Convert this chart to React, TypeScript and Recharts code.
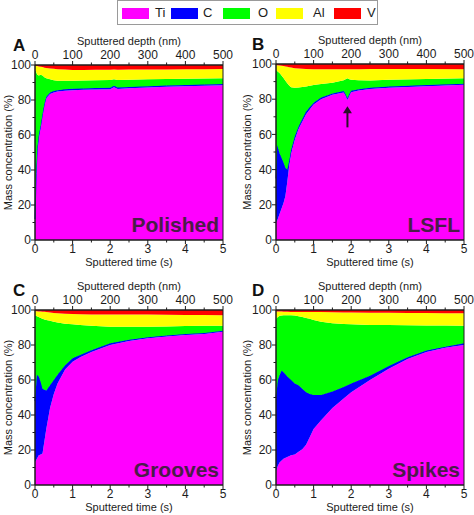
import React from 'react';
import { AreaChart, Area, XAxis, YAxis, ReferenceArea, ReferenceLine, ReferenceDot, Label } from 'recharts';

const elements = ['Ti', 'C', 'O', 'Al', 'V'];
const colors = ['#ff00ff', '#0000ff', '#00ff00', '#ffff00', '#ff0000'];

const timeTicks = [0, 0.5, 1, 1.5, 2, 2.5, 3, 3.5, 4, 4.5, 5];
const timeLabels = ['0', '1', '2', '3', '4', '5'];
const depthLabels = ['0', '100', '200', '300', '400', '500'];
const concTicks = [0, 10, 20, 30, 40, 50, 60, 70, 80, 90, 100];

// Polished
const timeA = [0, 0.03, 0.06, 0.1, 0.15, 0.2, 0.25, 0.3, 0.4, 0.5, 0.6, 0.8, 1.0, 1.3, 1.6, 2.0, 2.1, 2.2, 2.5, 3.0, 3.5, 4.0, 4.5, 5.0];
const tiA = [8, 35, 50, 58, 64, 71, 77, 81, 83.5, 84.3, 84.8, 85.3, 85.6, 85.8, 86, 86.2, 87.3, 86.3, 86.7, 87.2, 87.6, 87.9, 88.2, 88.5];
const cA = [4, 3, 2.5, 2, 1.5, 1.2, 1, 0.9, 0.8, 0.8, 0.8, 0.8, 0.8, 0.8, 0.8, 0.8, 0.8, 0.8, 0.8, 0.7, 0.7, 0.7, 0.7, 0.7];
const oA = [85.5, 58, 42, 34, 29, 21.8, 15, 10.6, 7.5, 6.2, 5.4, 4.9, 4.6, 4.6, 4.5, 4.5, 3.8, 4.4, 4.1, 3.9, 3.7, 3.5, 3.4, 3.2];
const alA = [2.1, 3.5, 4.9, 5.2, 4.5, 4.8, 5.5, 5.8, 6.2, 6.5, 6.6, 6.4, 6.2, 6, 6, 5.8, 5.5, 5.8, 5.8, 5.7, 5.5, 5.5, 5.3, 5.3];
const vA = [0.4, 0.5, 0.6, 0.8, 1, 1.2, 1.5, 1.7, 2, 2.2, 2.4, 2.6, 2.8, 2.8, 2.7, 2.7, 2.6, 2.7, 2.6, 2.5, 2.5, 2.4, 2.4, 2.3];

// LSFL
const timeB = [0, 0.03, 0.1, 0.2, 0.25, 0.3, 0.35, 0.4, 0.5, 0.6, 0.8, 1.0, 1.2, 1.5, 1.8, 1.85, 1.9, 1.95, 2.0, 2.2, 2.5, 3.0, 4.0, 5.0];
const tiB = [10, 11, 15, 21, 25, 33, 42, 49, 57, 63, 71.5, 77, 80, 82.5, 83.8, 82, 79.5, 82, 84, 85, 85.8, 86.5, 87.4, 88.2];
const cB = [25, 43, 34, 23, 16, 7, 3, 2, 2, 1.5, 1.5, 1, 1, 0.8, 0.8, 1, 1, 1, 0.8, 0.7, 0.7, 0.7, 0.6, 0.6];
const oB = [61.6, 42, 45.7, 48, 49.5, 49, 42.8, 35.8, 27.5, 22.2, 14.2, 10, 7.6, 6.1, 6.2, 8.3, 11.4, 8.4, 6.2, 5, 4.1, 3.8, 3.5, 3.1];
const alB = [2.8, 3.3, 4.4, 6.8, 8.1, 9.5, 10.4, 11.2, 11.1, 10.7, 10, 9, 8.4, 7.6, 6.2, 5.7, 5.1, 5.6, 6, 6.3, 6.5, 6.2, 5.6, 5.1];
const vB = [0.6, 0.7, 0.9, 1.2, 1.4, 1.5, 1.8, 2, 2.4, 2.6, 2.8, 3, 3, 3, 3, 3, 3, 3, 3, 3, 2.9, 2.8, 2.9, 3];

// Grooves
const timeC = [0, 0.05, 0.1, 0.15, 0.2, 0.25, 0.3, 0.4, 0.5, 0.6, 0.8, 1.0, 1.2, 1.5, 2.0, 2.5, 3.0, 3.5, 4.0, 4.5, 5.0];
const tiC = [13, 15, 17, 17.5, 18, 25, 32, 44, 52, 58, 66, 70.5, 73, 76, 80, 82.3, 83.8, 84.8, 85.7, 86.3, 87.6];
const cC = [35, 48, 45, 41.5, 37, 29.5, 22, 13, 8, 5, 2.5, 1.9, 1.3, 1, 1, 0.7, 0.6, 0.6, 0.6, 0.6, 0.6];
const oC = [49, 33.5, 34, 36.5, 40, 40.1, 40.3, 36.8, 33.3, 29.8, 23.7, 19.4, 17.1, 14, 9.5, 7.4, 6.1, 5.2, 4.6, 4.1, 2.8];
const alC = [2.4, 2.8, 3.2, 3.6, 4, 4.4, 4.6, 4.8, 5, 5.3, 5.7, 5.9, 6.2, 6.5, 7, 7.1, 6.9, 6.7, 6.3, 6.1, 6];
const vC = [0.6, 0.7, 0.8, 0.9, 1, 1, 1.1, 1.4, 1.7, 1.9, 2.1, 2.3, 2.4, 2.5, 2.5, 2.5, 2.6, 2.7, 2.8, 2.9, 3];

// Spikes
const timeD = [0, 0.05, 0.1, 0.15, 0.2, 0.3, 0.4, 0.5, 0.6, 0.7, 0.8, 0.9, 1.0, 1.2, 1.5, 1.8, 2.0, 2.5, 3.0, 3.5, 4.0, 4.5, 5.0];
const tiD = [7.6, 11, 13, 14, 15, 16, 17, 17.5, 19, 20.5, 23, 27.5, 32, 37, 44, 49.5, 53, 60, 66.5, 72, 76, 78.5, 80];
const cD = [42.4, 49, 50, 51.5, 49.5, 46, 43, 40.5, 38, 34.5, 30, 24.5, 19.4, 14.5, 9.5, 6.5, 5, 2.5, 1.5, 1, 0.8, 0.5, 1];
const oD = [45, 36, 33.7, 31.4, 32.5, 35, 37, 38.8, 39.5, 41, 42.5, 43, 42.9, 41.8, 38.9, 36, 33.8, 29, 23.4, 18.3, 14.4, 12.1, 10];
const alD = [4.2, 3.2, 2.4, 2.2, 2, 2, 1.9, 2.1, 2.4, 2.8, 3.3, 3.8, 4.5, 5.5, 6.3, 6.6, 6.8, 7, 7, 7, 7.1, 7.1, 7.2];
const vD = [0.8, 0.8, 0.9, 0.9, 1, 1, 1.1, 1.1, 1.1, 1.2, 1.2, 1.2, 1.2, 1.2, 1.3, 1.4, 1.4, 1.5, 1.6, 1.7, 1.7, 1.8, 1.8];

// arrow in LSFL panel: time, tail, head (%)
const arrowB = [1.9, 64, 76];

const FONT = '"Liberation Sans", Arial, Helvetica, sans-serif';
const INK = '#1c1c1c';

function rows(t: number[], ti: number[], c: number[], o: number[], al: number[], v: number[]) {
  return t.map((x, i) => ({ t: x, Ti: ti[i], C: c[i], O: o[i], Al: al[i], V: v[i] }));
}

const BottomTick = (props: any) => {
  const { x, y, payload } = props;
  const v = payload.value;
  const major = Number.isInteger(v);
  return (
    <g>
      <line x1={x} x2={x} y1={y} y2={y + (major ? 4 : 2.5)} stroke={INK} />
      {major && (
        <text x={x} y={y + 9} dy="0.35em" textAnchor="middle" fontSize={12} fill={INK} fontFamily={FONT}>
          {timeLabels[v]}
        </text>
      )}
    </g>
  );
};

const TopTick = (props: any) => {
  const { x, y, payload } = props;
  const v = payload.value;
  const major = Number.isInteger(v);
  return (
    <g>
      <line x1={x} x2={x} y1={y} y2={y - (major ? 4 : 2.5)} stroke={INK} />
      {major && (
        <text x={x} y={y - 10} dy="0.35em" textAnchor="middle" fontSize={12} fill={INK} fontFamily={FONT}>
          {depthLabels[v]}
        </text>
      )}
    </g>
  );
};

const LeftTick = (props: any) => {
  const { x, y, payload } = props;
  const v = payload.value;
  const major = v % 20 === 0;
  return (
    <g>
      <line x1={x} x2={x - (major ? 4 : 2.5)} y1={y} y2={y} stroke={INK} />
      {major && (
        <text x={x - 4} y={y} dy="0.35em" textAnchor="end" fontSize={12} fill={INK} fontFamily={FONT}>
          {v}
        </text>
      )}
    </g>
  );
};

const ArrowHead = (props: any) => {
  const { cx, cy } = props;
  return <path d={`M${cx},${cy} L${cx - 4.5},${cy + 7} L${cx + 4.5},${cy + 7} Z`} fill="#2a1028" />;
};

interface PanelProps {
  data: any[];
  left: number;
  top: number;
  width: number;
  height: number;
  yWidth: number;
  topH: number;
  bottomH: number;
  right: number;
  letter: string;
  name: string;
  yLabelOffset: number;
  arrow?: number[];
}

function Panel(p: PanelProps) {
  const plotH = p.height - p.topH - p.bottomH;
  return (
    <div style={{ position: 'absolute', left: p.left, top: p.top, width: p.width, height: p.height }}>
      <AreaChart width={p.width} height={p.height} data={p.data} margin={{ top: 0, right: p.right, bottom: 0, left: 0 }}>
        <XAxis
          dataKey="t"
          type="number"
          domain={[0, 5]}
          ticks={timeTicks}
          interval={0}
          height={p.bottomH}
          tickSize={0}
          tickMargin={0}
          tickLine={false}
          tick={<BottomTick />}
          axisLine={{ stroke: INK }}
        >
          <Label value="Sputtered time (s)" position="insideTop" offset={18.5} fontSize={11} fill={INK} fontFamily={FONT} />
        </XAxis>
        <XAxis
          xAxisId="top"
          orientation="top"
          dataKey="t"
          type="number"
          domain={[0, 5]}
          ticks={timeTicks}
          interval={0}
          height={p.topH}
          tickSize={0}
          tickMargin={0}
          tickLine={false}
          tick={<TopTick />}
          axisLine={{ stroke: INK }}
        >
          <Label value="Sputtered depth (nm)" position="insideTop" offset={p.topH - 28} fontSize={11} fill={INK} fontFamily={FONT} />
        </XAxis>
        <YAxis
          type="number"
          domain={[0, 100]}
          ticks={concTicks}
          interval={0}
          width={p.yWidth}
          tickSize={0}
          tickMargin={0}
          tickLine={false}
          tick={<LeftTick />}
          axisLine={{ stroke: INK }}
        >
          <Label
            value="Mass concentration (%)"
            angle={-90}
            position="insideLeft"
            offset={p.yLabelOffset}
            fontSize={11}
            fill={INK}
            fontFamily={FONT}
            style={{ textAnchor: 'middle' }}
          />
        </YAxis>
        {elements.map((el, i) => (
          <Area
            key={el}
            dataKey={el}
            stackId="1"
            type="linear"
            fill={colors[i]}
            fillOpacity={1}
            stroke={el === 'C' ? colors[i] : 'none'}
            strokeWidth={1}
            isAnimationActive={false}
            dot={false}
            activeDot={false}
          />
        ))}
        {p.arrow && (
          <ReferenceLine
            segment={[
              { x: p.arrow[0], y: p.arrow[1] },
              { x: p.arrow[0], y: p.arrow[2] - 3 },
            ]}
            stroke="#2a1028"
            strokeWidth={2}
          />
        )}
        {p.arrow && <ReferenceDot x={p.arrow[0]} y={p.arrow[2]} shape={<ArrowHead />} />}
        <ReferenceArea x1={0} x2={5} y1={0} y2={100} fill="none" stroke={INK} strokeWidth={1} />
      </AreaChart>
      <div
        style={{
          position: 'absolute',
          right: p.right + 4,
          top: p.topH + plotH - 27,
          fontFamily: FONT,
          fontWeight: 'bold',
          fontSize: 21,
          lineHeight: '24px',
          color: '#4a1d48',
          whiteSpace: 'nowrap',
        }}
      >
        {p.name}
      </div>
      <div
        style={{
          position: 'absolute',
          left: p.yWidth - (p.yWidth > 36 ? 24 : 22),
          top: p.topH - 28,
          fontFamily: FONT,
          fontWeight: 'bold',
          fontSize: 17,
          lineHeight: '17px',
          color: '#111',
        }}
      >
        {p.letter}
      </div>
    </div>
  );
}

const legendX = [122, 171, 223, 276, 334];
const legendTextX = [155, 203, 258, 313, 367];

export default function App() {
  const dataA = rows(timeA, tiA, cA, oA, alA, vA);
  const dataB = rows(timeB, tiB, cB, oB, alB, vB);
  const dataC = rows(timeC, tiC, cC, oC, alC, vC);
  const dataD = rows(timeD, tiD, cD, oD, alD, vD);
  return (
    <div style={{ position: 'relative', width: 474, height: 515, background: '#fff', fontFamily: FONT, overflow: 'hidden' }}>
      <style>{'body{margin:0}'}</style>
      <div
        style={{
          position: 'absolute',
          left: 117,
          top: 0,
          width: 259,
          height: 23,
          border: '1px solid #9a9a9a',
        }}
      />
      {elements.map((el, i) => (
        <React.Fragment key={el}>
          <div style={{ position: 'absolute', left: legendX[i], top: 8, width: 27, height: 11, background: colors[i] }} />
          <div style={{ position: 'absolute', left: legendTextX[i], top: 5, fontSize: 13, lineHeight: '16px', color: INK }}>{el}</div>
        </React.Fragment>
      ))}
      <Panel data={dataA} left={0} top={30} width={237} height={250} yWidth={35} topH={35} bottomH={40} right={14} letter="A" name="Polished" yLabelOffset={8} />
      <Panel data={dataB} left={237} top={30} width={237} height={250} yWidth={39} topH={34} bottomH={40} right={10} letter="B" name="LSFL" yLabelOffset={10} arrow={arrowB} />
      <Panel data={dataC} left={0} top={275} width={237} height={240} yWidth={35} topH={35} bottomH={30} right={14} letter="C" name="Grooves" yLabelOffset={8} />
      <Panel data={dataD} left={237} top={275} width={237} height={240} yWidth={39} topH={35} bottomH={30} right={10} letter="D" name="Spikes" yLabelOffset={10} />
    </div>
  );
}
